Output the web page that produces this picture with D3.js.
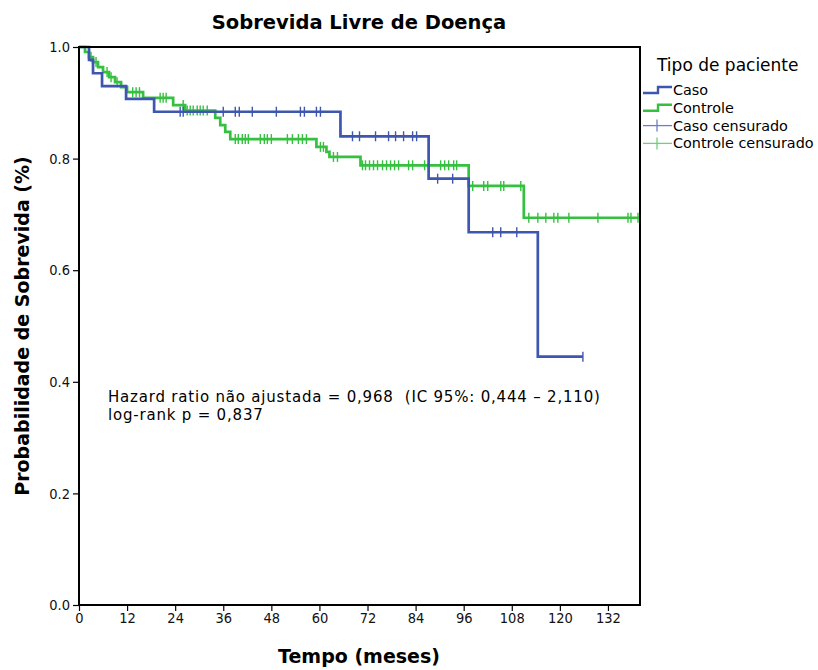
<!DOCTYPE html>
<html>
<head>
<meta charset="utf-8">
<script src="https://cdn.jsdelivr.net/npm/d3@7"></script>
<style>
  html, body { margin: 0; padding: 0; background: #fff; }
  svg { display: block; font-family: "DejaVu Sans", Verdana, sans-serif; }
</style>
</head>
<body>
<svg id="chart" width="818" height="670"></svg>
<script>
// Kaplan–Meier estimates: disease-free survival by patient type
const xTicks = [0, 12, 24, 36, 48, 60, 72, 84, 96, 108, 120, 132];
const yTicks = [0.0, 0.2, 0.4, 0.6, 0.8, 1.0];

// Caso (cases)
const casoEventTimes = [2.5, 3.5, 5.75, 11.75, 18.75, 65.25, 87.25, 97.25, 114.5];
const casoSurvival   = [0.977, 0.953, 0.930, 0.907, 0.884, 0.840, 0.764, 0.668, 0.445];
const casoCensored   = [25.25, 26, 36, 39, 40, 43.25, 49.25, 55.25, 56.25, 59.25, 60.25,
                        68.25, 70, 74, 77.25, 79, 81, 83.25, 84.25,
                        89.5, 93.25, 103.25, 105.25, 109.25, 125.75];
const casoLastTime = 125.75;

// Controle (controls)
const controleEventTimes = [1.5, 2.5, 3.5, 4.75, 6, 7.5, 9, 10.5, 12, 16, 23.5, 26.5,
                            34, 35.25, 36.5, 37.75, 59.25, 61.75, 62.5, 70.25, 97.25, 111];
const controleSurvival   = [0.991, 0.982, 0.973, 0.964, 0.955, 0.946, 0.937, 0.928, 0.919,
                            0.909, 0.896, 0.886, 0.873, 0.860, 0.848, 0.835, 0.821, 0.812,
                            0.803, 0.788, 0.751, 0.694];
const controleCensored   = [3, 4.25, 7, 8, 9.5, 13.4, 14.25, 15.1, 20.25, 21, 21.75, 26,
                            27, 27.75, 28.5, 29.5, 30.25, 31, 32,
                            39, 39.75, 40.75, 41.5, 42.25, 45.25, 46.25, 47, 48, 52, 53.25,
                            54.75, 55.75, 56.75, 60.25, 61, 63.5, 64.5,
                            70.75, 71.5, 72.5, 73.5, 74.5, 75.75, 76.75, 77.75, 78.75, 79.75,
                            82.25, 83.25, 86.25, 90.25, 91.25, 92.25, 93.5, 94.25,
                            98.25, 101, 102, 105.25, 106, 110.25,
                            112.25, 114.5, 116.5, 118.5, 119.5, 122.25, 129.5, 137, 137.75, 139.5];
const controleLastTime = 140;

const groups = [
  { name: "Caso", times: casoEventTimes, surv: casoSurvival, cens: casoCensored, last: casoLastTime, color: "#3f56ae" },
  { name: "Controle", times: controleEventTimes, surv: controleSurvival, cens: controleCensored, last: controleLastTime, color: "#36c040" }
];

const svg = d3.select("#chart");
const margin = { left: 79, top: 47, right: 178, bottom: 65 };
const W = 818, H = 670;
const x = d3.scaleLinear().domain([0, 140]).range([margin.left, W - margin.right]);
const y = d3.scaleLinear().domain([0, 1]).range([H - margin.bottom, margin.top]);

// Title
svg.append("text")
  .attr("x", 359).attr("y", 29)
  .attr("text-anchor", "middle")
  .attr("font-size", 19.5).attr("font-weight", "bold")
  .text("Sobrevida Livre de Doença");

// Survival step function value at time t
function survAt(g, t) {
  let s = 1;
  for (let i = 0; i < g.times.length; i++) {
    if (g.times[i] <= t) s = g.surv[i];
  }
  return s;
}

const line = d3.line()
  .x(d => x(d[0]))
  .y(d => y(d[1]))
  .curve(d3.curveStepAfter);

const plot = svg.append("g");

// Draw controls first so cases sit on top
[groups[1], groups[0]].forEach(g => {
  const pts = [[0, 1]];
  g.times.forEach((t, i) => pts.push([t, g.surv[i]]));
  pts.push([g.last, g.surv[g.surv.length - 1]]);
  plot.append("path")
    .datum(pts)
    .attr("fill", "none")
    .attr("stroke", g.color)
    .attr("stroke-width", 2.7)
    .attr("d", line);
  plot.selectAll(null)
    .data(g.cens)
    .enter().append("line")
    .attr("x1", d => x(d)).attr("x2", d => x(d))
    .attr("y1", d => y(survAt(g, d)) - 5)
    .attr("y2", d => y(survAt(g, d)) + 5)
    .attr("stroke", g.color)
    .attr("stroke-width", 1.4);
});

// Frame
svg.append("rect")
  .attr("x", x(0)).attr("y", y(1))
  .attr("width", x(140) - x(0)).attr("height", y(0) - y(1))
  .attr("fill", "none").attr("stroke", "#000").attr("stroke-width", 2);

// Axes
const xAxis = svg.append("g")
  .attr("transform", `translate(0,${y(0)})`)
  .call(d3.axisBottom(x).tickValues(xTicks).tickSize(6).tickPadding(2).tickFormat(d3.format("d")));
const yAxis = svg.append("g")
  .attr("transform", `translate(${x(0)},0)`)
  .call(d3.axisLeft(y).tickValues(yTicks).tickSize(6).tickPadding(3).tickFormat(d3.format(".1f")));
[xAxis, yAxis].forEach(a => {
  a.select(".domain").remove();
  a.selectAll(".tick line").attr("stroke", "#000").attr("stroke-width", 1.2);
  a.selectAll(".tick text").attr("font-size", 14.5).attr("fill", "#111")
    .attr("font-family", "'DejaVu Sans Condensed', 'DejaVu Sans', sans-serif")
    .attr("font-stretch", "condensed");
});

// Axis titles
svg.append("text")
  .attr("x", 359).attr("y", 663)
  .attr("text-anchor", "middle")
  .attr("font-size", 19).attr("font-weight", "bold")
  .text("Tempo (meses)");
svg.append("text")
  .attr("transform", "translate(29,326) rotate(-90)")
  .attr("text-anchor", "middle")
  .attr("font-size", 19).attr("font-weight", "bold")
  .text("Probabilidade de Sobrevida (%)");

// Statistics annotation
const notes = ["Hazard ratio não ajustada = 0,968  (IC 95%: 0,444 – 2,110)", "log-rank p = 0,837"];
svg.append("g").selectAll("text")
  .data(notes).enter().append("text")
  .attr("x", 108).attr("y", (d, i) => 402 + i * 18)
  .attr("font-size", 15)
  .attr("letter-spacing", 0.8)
  .attr("xml:space", "preserve")
  .style("white-space", "pre")
  .text(d => d);

// Legend
const legend = svg.append("g");
legend.append("text")
  .attr("x", 657).attr("y", 71)
  .attr("font-size", 17)
  .text("Tipo de paciente");
const items = [
  { label: "Caso", color: groups[0].color, kind: "step" },
  { label: "Controle", color: groups[1].color, kind: "step" },
  { label: "Caso censurado", color: "#6c7fc6", kind: "cens" },
  { label: "Controle censurado", color: "#6fcf7a", kind: "cens" }
];
items.forEach((it, i) => {
  const cy = 90 + i * 17.8;
  if (it.kind === "step") {
    legend.append("path")
      .attr("d", `M643,${cy + 3}H658V${cy - 3}H672`)
      .attr("fill", "none").attr("stroke", it.color).attr("stroke-width", 2.4);
  } else {
    legend.append("line").attr("x1", 643).attr("x2", 672).attr("y1", cy).attr("y2", cy)
      .attr("stroke", it.color).attr("stroke-width", 1.3);
    legend.append("line").attr("x1", 657).attr("x2", 657).attr("y1", cy - 6).attr("y2", cy + 6)
      .attr("stroke", it.color).attr("stroke-width", 1.3);
  }
  legend.append("text")
    .attr("x", 673).attr("y", cy + 5)
    .attr("font-size", 14.4)
    .text(it.label);
});
</script>
</body>
</html>
